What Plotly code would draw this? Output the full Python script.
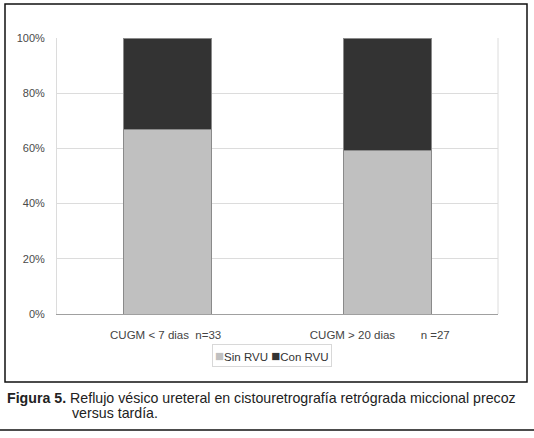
import plotly.graph_objects as go

NB = "\u00a0"
categories = ["CUGM < 7 dias" + NB * 2 + "n=33" + NB, "CUGM > 20 dias" + NB * 8 + "n =27" + NB * 5]
sin_rvu = [66.7, 59.3]
con_rvu = [33.3, 40.7]
y_ticks = [0, 20, 40, 60, 80, 100]
y_tick_labels = ["0%", "20%", "40%", "60%", "80%", "100%"]
series_names = ["Sin RVU", "Con RVU"]
series_colors = ["#c0c0c0", "#333333"]

fig = go.Figure()
for name, vals, col in zip(series_names, [sin_rvu, con_rvu], series_colors):
    fig.add_trace(go.Bar(x=categories, y=vals, name=name, showlegend=False,
                         marker=dict(color=col, line=dict(color="#8a8a8a", width=1))))

L, R, T, B = 57, 36, 38, 124
W, H = 534, 438
pw, ph = W - L - R, H - T - B

def px(x):
    return (x - L) / pw

def py(y):
    return (H - B - y) / ph

legend_text = NB.join(
    f"<span style='color:{c};font-size:15px'>■</span>{n}" for n, c in zip(series_names, series_colors)
)

fig.update_layout(
    width=W, height=H, barmode="stack", bargap=0.6,
    margin=dict(l=L, r=R, t=T, b=B, pad=0),
    paper_bgcolor="white", plot_bgcolor="white",
    font=dict(family="Liberation Sans, Arial, sans-serif", color="#444444", size=10),
    xaxis=dict(showgrid=False, showline=True, linecolor="#a0a0a0", linewidth=1, mirror=False,
               ticks="", ticklabelstandoff=10, tickfont=dict(size=11.5, color="#444444")),
    yaxis=dict(range=[0, 100], tickvals=y_ticks, ticktext=y_tick_labels,
               showgrid=True, gridcolor="#dcdcdc", gridwidth=1, zeroline=False,
               showline=True, linecolor="#dcdcdc", mirror=False, ticks="",
               ticklabelstandoff=9, tickfont=dict(size=11, color="#4a4a4a")),
    shapes=[
        dict(type="line", xref="paper", yref="paper", x0=1, x1=1, y0=0, y1=1,
             line=dict(color="#dcdcdc", width=1)),
        dict(type="rect", xref="paper", yref="paper", x0=px(5), x1=px(527), y0=py(382), y1=py(4),
             line=dict(color="#111111", width=1.5)),
        dict(type="line", xref="paper", yref="paper", x0=px(0), x1=px(534), y0=py(430), y1=py(430),
             line=dict(color="#111111", width=1.5)),
    ],
    annotations=[
        dict(xref="paper", yref="paper", x=px(272), y=py(355), xanchor="center", yanchor="middle",
             showarrow=False, text=legend_text, bordercolor="#d8d8d8", borderwidth=1, borderpad=2,
             font=dict(size=11.5, color="#333333", family="Liberation Sans, Arial, sans-serif")),
        dict(xref="paper", yref="paper", x=px(5), y=py(398), xanchor="left", yanchor="middle",
             showarrow=False, align="left",
             text="<b>Figura 5.</b> Reflujo vésico ureteral en cistouretrografía retrógrada miccional precoz",
             font=dict(size=14.2, color="#222222", family="Liberation Sans, Arial, sans-serif")),
        dict(xref="paper", yref="paper", x=px(70), y=py(413), xanchor="left", yanchor="middle",
             showarrow=False, align="left", text="versus tardía.",
             font=dict(size=14.2, color="#222222", family="Liberation Sans, Arial, sans-serif")),
    ],
)

fig.write_html("out.html", config={"displayModeBar": False},
               post_script="document.body.style.margin='0';document.body.style.overflow='hidden';")
